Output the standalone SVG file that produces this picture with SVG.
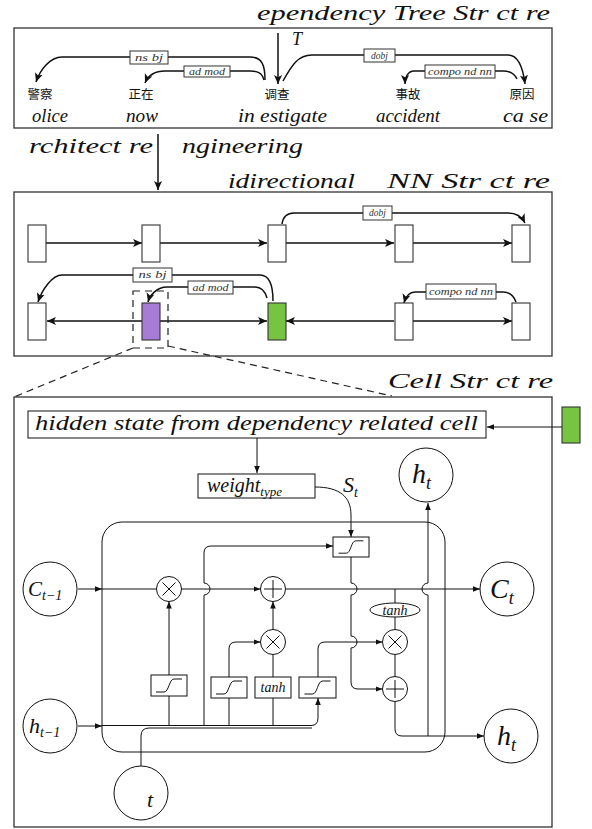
<svg xmlns="http://www.w3.org/2000/svg" width="592" height="829" viewBox="0 0 592 829">
<style>
text{font-family:"Liberation Serif","DejaVu Serif",serif;font-style:italic;fill:#111}
.zh{font-family:"Noto Sans CJK SC",sans-serif;font-style:normal;font-size:12.5px;text-anchor:middle}
.en{font-size:18px}
.ttl{font-size:21px}
.lbl{font-size:9.5px;text-anchor:middle;fill:#333}
.panel{fill:none;stroke:#333;stroke-width:1.3}
.lb{fill:#fff;stroke:#333;stroke-width:1}
.arc{fill:none;stroke:#111;stroke-width:1.5}
.nb{fill:#fff;stroke:#333;stroke-width:1.1}
.ln{fill:none;stroke:#111;stroke-width:1}
.c{fill:#fff;stroke:#111;stroke-width:1}
.g{fill:#fff;stroke:#111;stroke-width:1}
.dash{fill:none;stroke:#222;stroke-width:1.2;stroke-dasharray:7,5}
</style>
<defs>
<marker id="big" viewBox="0 0 10 10" refX="10" refY="5" markerWidth="9" markerHeight="9" markerUnits="userSpaceOnUse" orient="auto"><path d="M0,0.5 L10,5 L0,9.5 L2.5,5 z" fill="#111"/></marker>
<marker id="sm" viewBox="0 0 10 10" refX="10" refY="5" markerWidth="7" markerHeight="7" markerUnits="userSpaceOnUse" orient="auto"><path d="M0,1 L10,5 L0,9 z" fill="#111"/></marker>
<symbol id="sig" viewBox="0 0 36 21"><path d="M5,17 H13 C18,17 18,4 23,4 H31" fill="none" stroke="#111" stroke-width="1"/></symbol>
</defs>

<!-- Panel 1: Dependency tree -->
<text class="ttl" x="257" y="20" textLength="293" lengthAdjust="spacingAndGlyphs">ependency Tree Str ct re</text>
<rect class="panel" x="14" y="28" width="538" height="100"/>
<g id="connectors-tree">
<path class="arc" d="M265,80 C265,65 262,57 250,57 H62 C50,57 40,70 36,82" marker-end="url(#big)"/>
<path class="arc" d="M264,80 C262,73 258,71 250,71 H165 C155,71 148,76 145,83" marker-end="url(#big)"/>
<path class="arc" d="M278,33 V84" marker-end="url(#big)"/>
<path class="arc" d="M283,81 C292,65 298,55 312,55 H508 C518,55 523,68 525,84" marker-end="url(#big)"/>
<path class="arc" d="M517,79 C514,73 510,71 503,71 H414 C408,71 405,77 405,84" marker-end="url(#big)"/>
</g>
<g id="tree-labels">
<rect class="lb" x="130" y="51" width="38" height="13"/><text class="lbl" x="149" y="60.5" textLength="28" lengthAdjust="spacingAndGlyphs">ns bj</text>
<rect class="lb" x="184" y="66" width="46" height="11"/><text class="lbl" x="207" y="74.5" textLength="36" lengthAdjust="spacingAndGlyphs">ad mod</text>
<rect class="lb" x="364" y="49" width="31" height="13"/><text class="lbl" x="379.5" y="58.5">dobj</text>
<rect class="lb" x="425" y="65" width="70" height="13"/><text class="lbl" x="460" y="74.5" textLength="64" lengthAdjust="spacingAndGlyphs">compo nd nn</text>
<text style="font-size:18px" x="292" y="45">T</text>
</g>
<g id="w-police"><text class="zh" x="40" y="99">警察</text><text class="en" x="32" y="122" textLength="36" lengthAdjust="spacingAndGlyphs">olice</text></g>
<g id="w-now"><text class="zh" x="141" y="99">正在</text><text class="en" x="126" y="122" textLength="32" lengthAdjust="spacingAndGlyphs">now</text></g>
<g id="w-investigate"><text class="zh" x="277" y="99">调查</text><text class="en" x="238" y="122" textLength="89" lengthAdjust="spacingAndGlyphs">in estigate</text></g>
<g id="w-accident"><text class="zh" x="408" y="99">事故</text><text class="en" x="376" y="122" textLength="64" lengthAdjust="spacingAndGlyphs">accident</text></g>
<g id="w-cause"><text class="zh" x="522" y="99">原因</text><text class="en" x="503" y="122" textLength="45" lengthAdjust="spacingAndGlyphs">ca se</text></g>

<!-- Architecture engineering -->
<text class="ttl" x="29" y="153" textLength="124" lengthAdjust="spacingAndGlyphs">rchitect re</text>
<text class="ttl" x="182" y="153" textLength="121" lengthAdjust="spacingAndGlyphs">ngineering</text>
<g id="connectors-arch"><path class="arc" d="M158,134 V190" marker-end="url(#big)"/></g>

<!-- Panel 2: Bidirectional -->
<text class="ttl" x="228" y="188" textLength="127" lengthAdjust="spacingAndGlyphs">idirectional</text>
<text class="ttl" x="387" y="188" textLength="163" lengthAdjust="spacingAndGlyphs">NN Str ct re</text>
<rect class="panel" x="14" y="192" width="538" height="164"/>
<g id="connectors-bi">
<path class="arc" d="M46,243 H142" marker-end="url(#big)"/>
<path class="arc" d="M160,243 H267" marker-end="url(#big)"/>
<path class="arc" d="M286,243 H394" marker-end="url(#big)"/>
<path class="arc" d="M413,243 H512" marker-end="url(#big)"/>
<path class="arc" d="M142,321 H47" marker-end="url(#big)"/>
<path class="arc" d="M160,321 H267" marker-end="url(#big)"/>
<path class="arc" d="M394,321 H286" marker-end="url(#big)"/>
<path class="arc" d="M413,321 H512" marker-end="url(#big)"/>
<path class="arc" d="M282,224 C283,217 286,213 294,213 H508 C516,213 522,217 525,223" marker-end="url(#big)"/>
<path class="arc" d="M273,301 C273,285 270,275 260,275 H62 C52,275 42,290 38,302" marker-end="url(#big)"/>
<path class="arc" d="M267,298 C265,291 262,287 255,287 H167 C157,287 150,295 148,302" marker-end="url(#big)"/>
<path class="arc" d="M516,302 C514,296 510,292 503,292 H415 C410,292 406,296 404,303" marker-end="url(#big)"/>
</g>
<g id="bi-labels">
<rect class="lb" x="363" y="206" width="29" height="14"/><text class="lbl" x="377.5" y="216">dobj</text>
<rect class="lb" x="133" y="268" width="39" height="14"/><text class="lbl" x="152.5" y="278" textLength="28" lengthAdjust="spacingAndGlyphs">ns bj</text>
<rect class="lb" x="188" y="281" width="45" height="13"/><text class="lbl" x="210.5" y="290.5" textLength="36" lengthAdjust="spacingAndGlyphs">ad mod</text>
<rect class="lb" x="426" y="284" width="70" height="15"/><text class="lbl" x="461" y="294.5" textLength="64" lengthAdjust="spacingAndGlyphs">compo nd nn</text>
</g>
<g id="n-t1"><rect class="nb" x="28" y="225" width="18" height="37"/></g>
<g id="n-t2"><rect class="nb" x="142" y="225" width="18" height="37"/></g>
<g id="n-t3"><rect class="nb" x="268" y="225" width="18" height="37"/></g>
<g id="n-t4"><rect class="nb" x="395" y="225" width="18" height="37"/></g>
<g id="n-t5"><rect class="nb" x="512" y="225" width="18" height="37"/></g>
<g id="n-b1"><rect class="nb" x="28" y="303" width="18" height="37"/></g>
<g id="n-b2"><rect class="nb" x="142" y="303" width="18" height="37" style="fill:#A67CD6"/></g>
<g id="n-b3"><rect class="nb" x="268" y="303" width="18" height="37" style="fill:#76C442"/></g>
<g id="n-b4"><rect class="nb" x="395" y="303" width="18" height="37"/></g>
<g id="n-b5"><rect class="nb" x="512" y="303" width="18" height="37"/></g>
<rect class="dash" x="133" y="291" width="35" height="57"/>
<path class="dash" d="M133,348 L14,397"/>
<path class="dash" d="M168,346 L392,396"/>

<!-- Panel 3: Cell -->
<text class="ttl" x="388" y="388" textLength="165" lengthAdjust="spacingAndGlyphs">Cell Str ct re</text>
<rect class="panel" x="14" y="397" width="538" height="430"/>

<g id="connectors-cell">
<path class="ln" d="M562,427 H487" marker-end="url(#sm)"/>
<path class="ln" d="M257,438 V473" marker-end="url(#sm)"/>
<path class="ln" d="M315,487 C340,487 351,497 351,515 V537" marker-end="url(#sm)"/>
<path class="ln" d="M78,589 H102" marker-end="url(#sm)"/>
<path class="ln" d="M102,589 H156.5"/>
<path class="ln" d="M181.5,589 H260.5" marker-end="url(#sm)"/>
<path class="ln" d="M285.5,589 H480" marker-end="url(#sm)"/>
<path class="ln" d="M78,726 H102" marker-end="url(#sm)"/>
<path class="ln" d="M102,725.5 H311 Q318,725.5 318,718 V698" marker-end="url(#sm)"/>
<path class="ln" d="M141,766 V736 Q141,728 149,728 H312"/>
<path class="ln" d="M204,726 V595 A6,6 0 0 0 204,583 V553 Q204,546 211,546 H333" marker-end="url(#sm)"/>
<path class="ln" d="M169,726 V696"/>
<path class="ln" d="M169,675 V601.5" marker-end="url(#sm)"/>
<path class="ln" d="M229,726 V698"/>
<path class="ln" d="M229,677 V649 Q229,642 236,642 H260.5" marker-end="url(#sm)"/>
<path class="ln" d="M273,726 V698"/>
<path class="ln" d="M273,677 V654.5"/>
<path class="ln" d="M273,629.5 V601.5" marker-end="url(#sm)"/>
<path class="ln" d="M318,677 V649 Q318,642 325,642 H382.5" marker-end="url(#sm)"/>
<path class="ln" d="M351,557 V583 A6,6 0 0 1 351,595 V636 A6,6 0 0 1 351,648 V682 Q351,689 358,689 H382.5" marker-end="url(#sm)"/>
<path class="ln" d="M395,589 V603"/>
<path class="ln" d="M395,617 V629.5"/>
<path class="ln" d="M395,654.5 V676.5"/>
<path class="ln" d="M395,701.5 V729 Q395,736 402,736 H484" marker-end="url(#sm)"/>
<path class="ln" d="M428,736 V595 A6,6 0 0 1 428,583 V503" marker-end="url(#sm)"/>
</g>
<rect class="ln" x="102" y="522" width="343" height="230" rx="20"/>

<g id="n-hidden"><rect class="g" x="28" y="411" width="458" height="27"/><text style="font-size:21px" x="35" y="430" textLength="443" lengthAdjust="spacingAndGlyphs">hidden state from dependency related cell</text></g>
<g id="n-green"><rect class="nb" x="562" y="407" width="18" height="36" style="fill:#76C442"/></g>
<g id="n-weight"><rect class="g" x="198" y="474" width="117" height="24"/><text style="font-size:20px" x="207" y="492">weight<tspan style="font-size:13px" dy="4">type</tspan></text></g>
<text style="font-size:22px" x="343" y="492">S<tspan style="font-size:14px" dy="5">t</tspan></text>

<g id="n-ctm1"><circle class="c" cx="50" cy="589" r="27"/><text style="font-size:21px" x="28" y="596">C<tspan style="font-size:14px" dy="4">t−1</tspan></text></g>
<g id="n-htm1"><circle class="c" cx="50" cy="726" r="27"/><text style="font-size:22px" x="29" y="733">h<tspan style="font-size:14px" dy="4">t−1</tspan></text></g>
<g id="n-xt"><circle class="c" cx="141" cy="793" r="27"/><text style="font-size:22px" x="147" y="807">t</text></g>
<g id="n-ht-top"><circle class="c" cx="426" cy="475" r="27"/><text style="font-size:28px" x="412" y="483">h<tspan style="font-size:18px" dy="6">t</tspan></text></g>
<g id="n-ct"><circle class="c" cx="507" cy="589" r="27"/><text style="font-size:28px" x="490" y="598">C<tspan style="font-size:18px" dy="6">t</tspan></text></g>
<g id="n-ht-out"><circle class="c" cx="511" cy="736" r="27"/><text style="font-size:28px" x="497" y="745">h<tspan style="font-size:18px" dy="6">t</tspan></text></g>

<g id="n-mul-f"><circle class="c" cx="169" cy="589" r="12.5"/><path class="ln" d="M162.5,582.5 L175.5,595.5 M175.5,582.5 L162.5,595.5"/></g>
<g id="n-add-c"><circle class="c" cx="273" cy="589" r="12.5"/><path class="ln" d="M264,589 H282 M273,580 V598"/></g>
<g id="n-mul-i"><circle class="c" cx="273" cy="642" r="12.5"/><path class="ln" d="M266.5,635.5 L279.5,648.5 M279.5,635.5 L266.5,648.5"/></g>
<g id="n-mul-o"><circle class="c" cx="395" cy="642" r="12.5"/><path class="ln" d="M388.5,635.5 L401.5,648.5 M401.5,635.5 L388.5,648.5"/></g>
<g id="n-add-h"><circle class="c" cx="395" cy="689" r="12.5"/><path class="ln" d="M386,689 H404 M395,680 V698"/></g>
<g id="n-tanh-c"><ellipse class="c" cx="395" cy="610" rx="25" ry="7"/><text style="font-size:14px;text-anchor:middle" x="395" y="614.5">tanh</text></g>

<g id="n-sig-s"><rect class="g" x="333" y="537" width="36" height="20"/><use href="#sig" x="333" y="537" width="36" height="20"/></g>
<g id="n-sig-f"><rect class="g" x="151" y="675" width="36" height="21"/><use href="#sig" x="151" y="675" width="36" height="21"/></g>
<g id="n-sig-i"><rect class="g" x="211" y="677" width="36" height="21"/><use href="#sig" x="211" y="677" width="36" height="21"/></g>
<g id="n-tanh-g"><rect class="g" x="255" y="677" width="36" height="21"/><text style="font-size:14px;text-anchor:middle" x="273" y="692">tanh</text></g>
<g id="n-sig-o"><rect class="g" x="299" y="677" width="37" height="21"/><use href="#sig" x="299" y="677" width="37" height="21"/></g>
</svg>
